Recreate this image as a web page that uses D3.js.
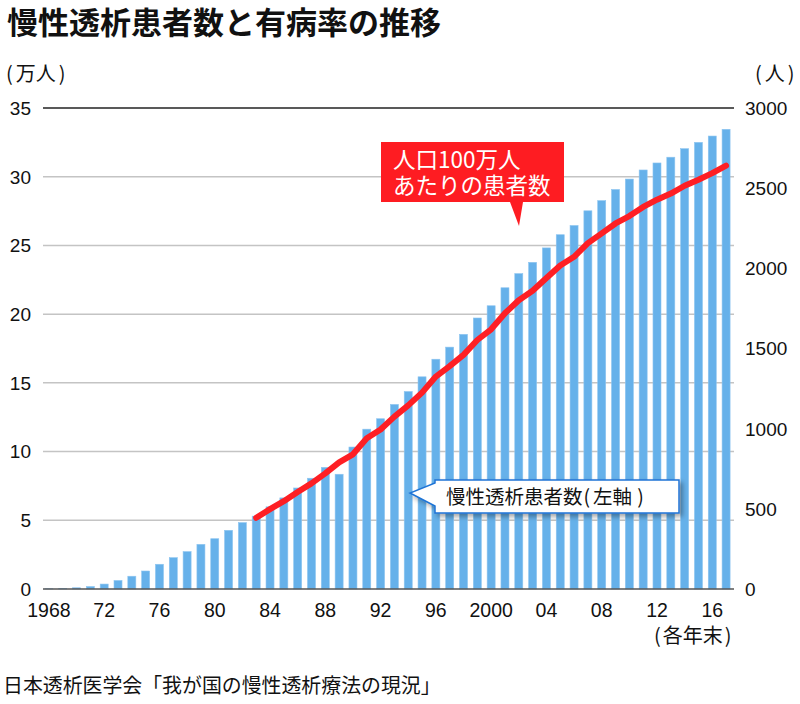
<!DOCTYPE html>
<html><head><meta charset="utf-8">
<script src="https://cdn.jsdelivr.net/npm/d3@7/dist/d3.min.js"></script>
<style>
body{margin:0;background:#fff;}
text{font-family:"Liberation Sans",Arial,"Noto Sans CJK JP",sans-serif;}
</style></head><body>
<svg id="c" width="800" height="704"></svg>
<script>
const years = d3.range(1968, 2018);
// 慢性透析患者数（万人）
const patients = [0.02,0.05,0.09,0.18,0.36,0.62,0.93,1.31,1.80,2.28,2.72,3.25,3.66,4.27,4.83,5.30,5.98,6.63,7.35,8.06,8.85,8.35,10.33,11.63,12.39,13.43,14.37,15.44,16.72,17.60,18.53,19.72,20.61,21.92,22.95,23.77,24.82,25.78,26.45,27.52,28.26,29.07,29.83,30.49,31.00,31.42,32.04,32.50,32.96,33.45];
// 人口100万人あたりの患者数（人）
const rateYears = d3.range(1983, 2018);
const rate = [444,498,548,605,659,721,790,840,940,995,1075,1145,1225,1325,1390,1460,1553,1620,1720,1801,1860,1940,2018,2072,2157,2218,2280,2326,2383,2428,2466,2515,2553,2594,2640];
const leftTicks = [0,5,10,15,20,25,30,35];
const rightTicks = [0,500,1000,1500,2000,2500,3000];
const xTickYears = [1968,1972,1976,1980,1984,1988,1992,1996,2000,2004,2008,2012,2016];
const xTickLabels = ["1968","72","76","80","84","88","92","96","2000","04","08","12","16"];

const svg = d3.select("#c");
const x = d3.scaleBand().domain(years).range([42, 733]).paddingInner(0.42).paddingOuter(0.21);
const yL = d3.scaleLinear().domain([0,35]).range([589,108]);
const yR = d3.scaleLinear().domain([0,3000]).range([589,108]);
const cx = d => x(d) + x.bandwidth()/2;
const cjk = "'Noto Sans CJK JP',sans-serif";

// title
svg.append("text").attr("x",7).attr("y",34).attr("font-size",31).attr("font-weight","bold")
  .style("font-family",cjk).attr("fill","#111").text("慢性透析患者数と有病率の推移");

// gridlines
svg.append("g").selectAll("line").data(leftTicks.filter(t=>t>0&&t<35)).join("line")
  .attr("x1",43).attr("x2",734).attr("y1",d=>yL(d)).attr("y2",d=>yL(d))
  .attr("stroke","#c4c4c4").attr("stroke-width",1.5);
svg.append("line").attr("x1",43).attr("x2",734).attr("y1",yL(35)).attr("y2",yL(35)).attr("stroke","#222").attr("stroke-width",1.3);

// bars
svg.append("g").selectAll("rect").data(years).join("rect")
  .attr("x",d=>x(d)).attr("width",x.bandwidth())
  .attr("y",(d,i)=>yL(patients[i])).attr("height",(d,i)=>yL(0)-yL(patients[i]))
  .attr("fill","#66b1ea").attr("stroke","#8ec5f0").attr("stroke-width",0.6);

// baseline
svg.append("line").attr("x1",43).attr("x2",734).attr("y1",yL(0)).attr("y2",yL(0)).attr("stroke","#555").attr("stroke-width",1.5);

// line
const line = d3.line().x(d=>cx(d[0])).y(d=>yR(d[1]));
svg.append("path").datum(rateYears.map((yv,i)=>[yv,rate[i]])).attr("d",line)
  .attr("fill","none").attr("stroke","#fe1f24").attr("stroke-width",6).attr("stroke-linejoin","round").attr("stroke-linecap","round");

// left axis labels
svg.append("g").selectAll("text").data(leftTicks).join("text")
  .attr("x",31).attr("y",d=>yL(d)).attr("dy","0.36em").attr("text-anchor","end")
  .attr("font-size",19).attr("fill","#111").text(d=>d);
// right axis labels
svg.append("g").selectAll("text").data(rightTicks).join("text")
  .attr("x",745).attr("y",d=>yR(d)).attr("dy","0.36em").attr("text-anchor","start")
  .attr("font-size",19).attr("fill","#111").text(d=>d);
// x labels
svg.append("g").selectAll("text").data(xTickYears).join("text")
  .attr("x",d=>cx(d)).attr("y",617).attr("text-anchor","middle")
  .attr("font-size",19.5).attr("fill","#111").text((d,i)=>xTickLabels[i]);

// units (parentheses spaced with tspans)
function paren(xp, yp, inner, fs, pad){
  const t = svg.append("text").attr("x",xp).attr("y",yp).attr("font-size",fs).style("font-family",cjk).attr("fill","#111");
  t.append("tspan").text("(");
  t.append("tspan").attr("dx",pad).text(inner);
  t.append("tspan").attr("dx",pad).text(")");
  return t;
}
paren(6,81,"万人",20,3);
paren(755,81,"人",20,3);
paren(654,643,"各年末",20,2);
svg.append("text").attr("x",3).attr("y",693).attr("font-size",19.9).style("font-family",cjk).attr("fill","#111").text("日本透析医学会「我が国の慢性透析療法の現況」");

// red callout
svg.append("path").attr("d","M381,142H564V202H523L519,226L510,202H381Z").attr("fill","#fe1c22");
const rt = svg.append("text").attr("font-size",22.5).style("font-family",cjk).attr("fill","#fff");
rt.append("tspan").attr("x",393).attr("y",168).text("人口100万人");
rt.append("tspan").attr("x",393).attr("y",194).text("あたりの患者数");

// blue callout with shadow
const defs = svg.append("defs");
const f = defs.append("filter").attr("id","sh").attr("x","-10%").attr("y","-30%").attr("width","130%").attr("height","170%");
f.append("feDropShadow").attr("dx",3).attr("dy",3).attr("stdDeviation",2.5).attr("flood-color","#000").attr("flood-opacity",0.35);
svg.append("path").attr("d","M435,480H679V513H435V506L410,493L435,483Z")
  .attr("fill","#fff").attr("stroke","#1f74d6").attr("stroke-width",1.5).attr("filter","url(#sh)");
const bt = svg.append("text").attr("x",446).attr("y",504).attr("font-size",19.5).style("font-family",cjk).attr("fill","#111");
bt.append("tspan").text("慢性透析患者数");
bt.append("tspan").attr("dx",1).text("(");
bt.append("tspan").attr("dx",3).text("左軸");
bt.append("tspan").attr("dx",5).text(")");
</script></body></html>
